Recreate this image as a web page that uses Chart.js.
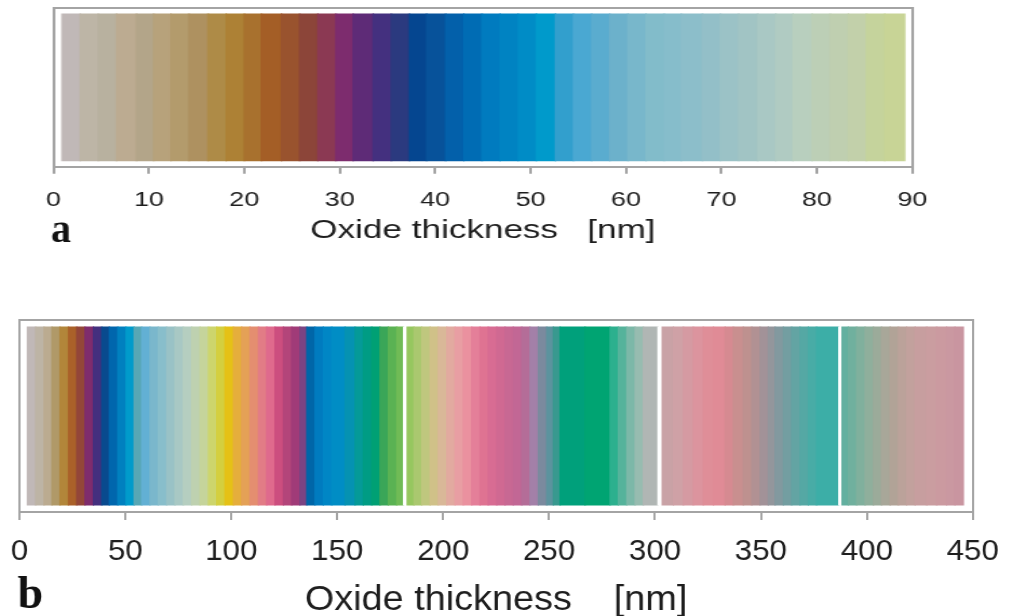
<!DOCTYPE html>
<html>
<head>
<meta charset="utf-8">
<script src="https://cdn.jsdelivr.net/npm/chart.js@4.4.1/dist/chart.umd.min.js"></script>
<style>
  html, body { margin: 0; padding: 0; background: #fff; overflow: hidden; }
  .panel { position: absolute; left: 0; transform-origin: 0 0; }
  #panelA { top: 0; width: 748px; height: 260px; transform: scaleX(1.35); }
  #panelB { top: 290px; width: 935px; height: 340px; transform: scaleX(1.08); }
</style>
</head>
<body>
<div class="panel" id="panelA"><canvas id="stripA"></canvas></div>
<div class="panel" id="panelB"><canvas id="stripB"></canvas></div>
<script>
// panel a: band edges (oxide thickness, nm) and the colour of each band
const edgesA = [0.9, 2.8, 4.7, 6.6, 8.7, 10.5, 12.3, 14.2, 16.2, 18.1, 20.0, 21.8, 23.9, 25.8, 27.7, 29.6,
    31.4, 33.5, 35.4, 37.3, 39.1, 41.1, 43.0, 44.9, 46.8, 48.7, 50.6, 52.6, 54.5, 56.4, 58.3, 60.2,
    62.1, 64.0, 65.8, 68.0, 69.9, 71.8, 73.8, 75.7, 77.5, 79.5, 81.4, 83.3, 85.2, 87.1, 89.2];
const coloursA = ["#c0b8b7", "#bdb5a6", "#b8b19f", "#bcab91", "#b3a589", "#b7a27b", "#b39b6c", "#ae9160",
    "#ae8b47", "#ad8135", "#a8712e", "#a45e26", "#99532e", "#8c4539", "#8b3953", "#7d2c6e",
    "#5e2b77", "#44307f", "#2b3a7f", "#054690", "#07529a", "#0360aa", "#006cb4", "#007bbf",
    "#0083c2", "#008cc6", "#009acb", "#329fcd", "#4aa8d2", "#5aaccf", "#6cb1cb", "#78b7cb",
    "#82bcca", "#86bdcb", "#8cbeca", "#93bfc8", "#9bc2c6", "#a1c4c4", "#a9c8c4", "#b0cbc2",
    "#b8cfbe", "#bccfb6", "#bfcfb0", "#c2d0aa", "#c5d39c", "#c8d496"];
const rangeA = [0, 90];
const stepA = 10;

// panel b: same idea, white bands are the separator lines in the strip
const edgesB = [3.7, 7.6, 11.6, 15.3, 19.1, 23.1, 27.0, 30.9, 34.9, 38.8, 42.4, 46.4, 50.3, 54.1, 57.7,
    61.6, 65.5, 69.5, 73.4, 77.3, 81.3, 85.2, 89.2, 93.1, 97.0, 101.0, 104.9, 108.8, 112.8, 116.7,
    120.6, 124.6, 128.5, 132.4, 135.6, 139.5, 143.4, 147.4, 153.7, 158.4, 162.3, 166.3, 170.2, 174.1,
    178.1, 181.3, 183.0, 186.2, 189.9, 193.8, 197.7, 201.7, 205.6, 209.5, 213.5, 217.4, 221.3, 225.3,
    229.2, 233.1, 237.1, 241.0, 244.9, 248.9, 252.0, 255.2, 267.0, 278.8, 282.7, 286.7, 290.6, 294.5,
    301.4, 303.4, 308.7, 313.4, 318.1, 322.8, 327.6, 333.1, 337.0, 341.7, 345.7, 349.6, 353.5, 356.7,
    360.6, 364.5, 368.5, 372.4, 376.3, 386.8, 388.3, 391.3, 395.2, 399.2, 403.1, 407.0, 411.0, 414.9,
    418.8, 422.8, 428.3, 433.0, 437.7, 441.6, 445.6];
const coloursB = ["#c0b8b7", "#bdb4a5", "#bbab90", "#b09968", "#b2863a", "#aa6129", "#934639", "#7f2c6d",
    "#442f7e", "#094a8e", "#0066ad", "#0080bf", "#009bcb", "#57a7b5", "#62b0d4", "#7ab7cc",
    "#88becb", "#99c2c6", "#a8c8c4", "#b5cec0", "#bed1b0", "#c5d49b", "#cdd56c", "#d4cf3f",
    "#e5c116", "#e5ae3c", "#e4a156", "#e48e70", "#e27c86", "#df6a8d", "#cc4e7f", "#b3457a",
    "#a03b78", "#7b4483", "#0066a8", "#007bbf", "#0086c5", "#008dc5", "#0592b2", "#059a98",
    "#009c84", "#00a074", "#3aa658", "#5ab253", "#70bb56", "#ffffff", "#96c75f", "#aac86f",
    "#bfc77e", "#d0c188", "#d9b898", "#e2aaa0", "#e89ea3", "#ea919f", "#e47f99", "#df7392",
    "#d86c93", "#d06992", "#c86893", "#c26795", "#b46d98", "#a380a8", "#7b8a9e", "#5c939e",
    "#38998f", "#00a07b", "#00a472", "#2cb08e", "#55b39b", "#7cb8a8", "#97bcb0", "#b0b6b4",
    "#ffffff", "#c9a2a6", "#cfa1a6", "#d59aa2", "#dc949e", "#df8e98", "#e08b96", "#d68a91",
    "#c98f8f", "#be918f", "#b19193", "#a29298", "#93969c", "#82999f", "#739ea1", "#63a4a3",
    "#55a8a4", "#48aca6", "#3caea7", "#ffffff", "#63b0a0", "#70b09e", "#80b09d", "#8faf9c",
    "#9bab9a", "#a8a799", "#b1a397", "#bba29a", "#c2a19d", "#c79e9f", "#ca9da0", "#cb9aa0",
    "#ca98a1", "#c995a0"];
const rangeB = [0, 450];
const stepB = 50;

const axisTitle = "Oxide thickness";
const unitLabel = "[nm]";

const frameGrey = "#a4a4a4";
const sans = "'Liberation Sans', Arial, sans-serif";

// bold panel letter under the axis, drawn unstretched
const panelLetter = {
    id: "panelLetter",
    afterDraw(chart, args, opts) {
        const ctx = chart.ctx;
        ctx.save();
        ctx.translate(opts.x / opts.stretch, opts.y);
        ctx.scale(1 / opts.stretch, 1);
        ctx.font = "bold " + opts.size + "px 'Liberation Serif', 'Times New Roman', serif";
        ctx.fillStyle = "#111";
        ctx.textBaseline = "alphabetic";
        ctx.fillText(opts.text, 0, 0);
        ctx.restore();
    }
};

function makeStrip(id, edges, colours, range, step, look) {
    const s = look.stretch;
    const bands = colours.map((c, i) => ({ x: [edges[i], edges[i + 1]], y: "strip" }));
    const frame = { display: true, color: frameGrey, width: 2 };

    return new Chart(document.getElementById(id), {
        type: "bar",
        data: {
            labels: ["strip"],
            datasets: [{
                data: bands,
                backgroundColor: colours,
                borderWidth: 0,
                inflateAmount: 0.6,
                barPercentage: 1,
                categoryPercentage: look.fill,
                xAxisID: "x",
                yAxisID: "y"
            }]
        },
        plugins: [panelLetter],
        options: {
            indexAxis: "y",
            responsive: true,
            maintainAspectRatio: false,
            animation: false,
            events: [],
            layout: {
                padding: { left: look.left / s, right: look.width - look.right / s, top: look.top, bottom: look.bottom }
            },
            plugins: {
                legend: { display: false },
                tooltip: { enabled: false },
                panelLetter: { text: look.letter, x: look.letterX, y: look.letterY, size: look.letterSize, stretch: s }
            },
            scales: {
                x: {
                    type: "linear",
                    position: "bottom",
                    min: range[0],
                    max: range[1],
                    ticks: {
                        stepSize: step,
                        padding: look.tickPad,
                        color: "#1e1e1e",
                        maxRotation: 0,
                        font: { family: sans, size: look.tickSize }
                    },
                    grid: { drawOnChartArea: false, drawTicks: true, tickLength: look.tickLen, color: frameGrey, lineWidth: 2 },
                    border: frame,
                    title: {
                        display: true,
                        text: axisTitle + look.gap + unitLabel,
                        color: "#1e1e1e",
                        font: { family: sans, size: look.titleSize },
                        padding: { top: 0, bottom: look.titlePad }
                    },
                    afterFit(scale) {
                        scale.height = look.axisHeight;
                        scale.paddingLeft = 0;
                        scale.paddingRight = 0;
                    }
                },
                x2: {
                    type: "linear",
                    position: "top",
                    min: range[0],
                    max: range[1],
                    ticks: { display: false },
                    grid: { display: false, drawTicks: false },
                    border: frame
                },
                y: {
                    type: "category",
                    position: "left",
                    ticks: { display: false },
                    grid: { display: false, drawTicks: false },
                    border: frame
                },
                y2: {
                    type: "category",
                    position: "right",
                    ticks: { display: false },
                    grid: { display: false, drawTicks: false },
                    border: frame
                }
            }
        }
    });
}

makeStrip("stripA", edgesA, coloursA, rangeA, stepA, {
    stretch: 1.35, width: 748, left: 53.5, right: 912.3, top: 8, bottom: 13.3,
    fill: 0.924, axisHeight: 80, tickLen: 7, tickPad: 15, tickSize: 20,
    titleSize: 26, titlePad: 0, gap: "   ",
    letter: "a", letterX: 51, letterY: 241.5, letterSize: 40
});

makeStrip("stripB", edgesB, coloursB, rangeB, stepB, {
    stretch: 1.08, width: 935, left: 19.5, right: 972.7, top: 30, bottom: 8,
    fill: 0.925, axisHeight: 110, tickLen: 8, tickPad: 15, tickSize: 29,
    titleSize: 35, titlePad: 1, gap: "    ",
    letter: "b", letterX: 17.5, letterY: 318, letterSize: 46
});
</script>
</body>
</html>
